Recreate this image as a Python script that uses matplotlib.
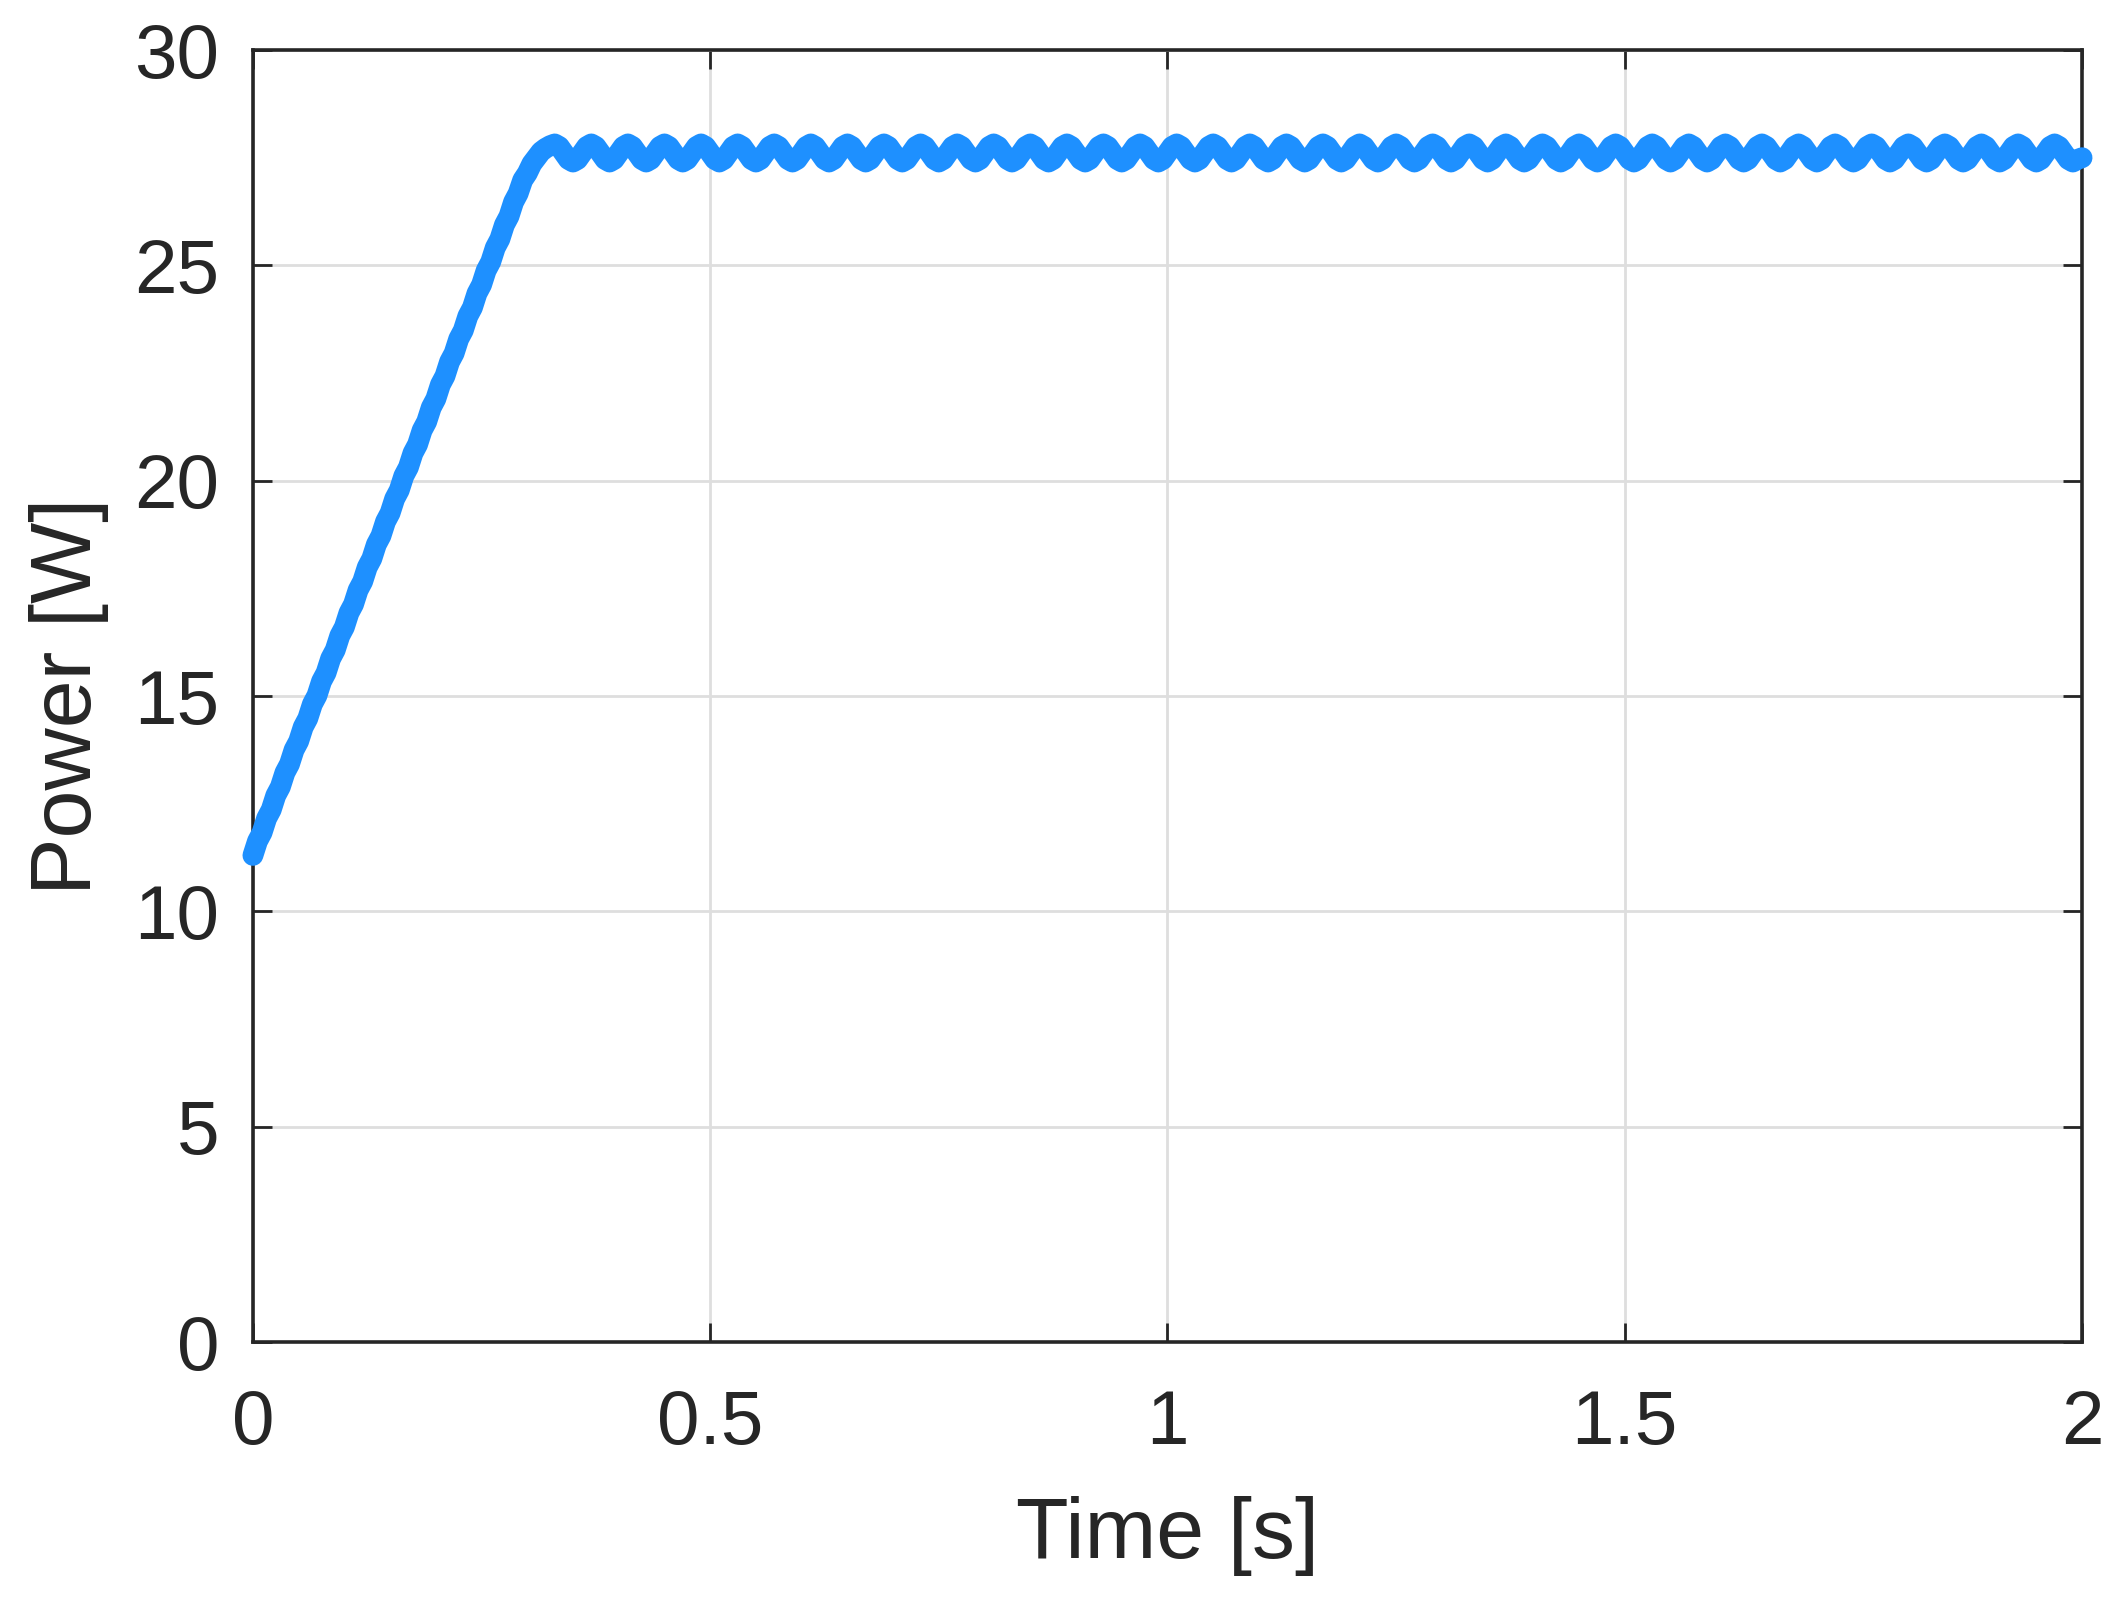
#!/usr/bin/env python3
"""
PV power during MPPT start-up
Ramp from the initial operating point up to the maximum power point,
followed by the steady-state ripple around ~27.6 W.
"""

import numpy as np
import matplotlib.pyplot as plt

# start-up ramp, sampled every 5 ms (0 .. 0.325 s)
ramp_time = np.arange(0.0, 0.3251, 0.005)
ramp_power = [
    11.30, 11.63, 11.83, 12.16, 12.36, 12.69, 12.89, 13.22, 13.42, 13.75,
    13.95, 14.28, 14.48, 14.81, 15.01, 15.34, 15.54, 15.87, 16.07, 16.40,
    16.60, 16.93, 17.13, 17.46, 17.66, 17.99, 18.19, 18.52, 18.72, 19.05,
    19.25, 19.58, 19.78, 20.11, 20.31, 20.64, 20.84, 21.17, 21.37, 21.70,
    21.90, 22.23, 22.43, 22.76, 22.96, 23.29, 23.49, 23.82, 24.02, 24.35,
    24.55, 24.88, 25.08, 25.41, 25.61, 25.94, 26.14, 26.47, 26.67, 26.98,
    27.14, 27.36, 27.50, 27.64, 27.72, 27.78,
]

# steady-state ripple, sampled every 5 ms (0.33 .. 2.0 s), one 40 ms cycle per row
ripple_time = np.arange(0.33, 2.0001, 0.005)
ripple_power = [
    27.82, 27.76, 27.61, 27.46, 27.40, 27.46, 27.61, 27.76,
    27.82, 27.76, 27.61, 27.46, 27.40, 27.46, 27.61, 27.76,
    27.82, 27.76, 27.61, 27.46, 27.40, 27.46, 27.61, 27.76,
    27.82, 27.76, 27.61, 27.46, 27.40, 27.46, 27.61, 27.76,
    27.82, 27.76, 27.61, 27.46, 27.40, 27.46, 27.61, 27.76,
    27.82, 27.76, 27.61, 27.46, 27.40, 27.46, 27.61, 27.76,
    27.82, 27.76, 27.61, 27.46, 27.40, 27.46, 27.61, 27.76,
    27.82, 27.76, 27.61, 27.46, 27.40, 27.46, 27.61, 27.76,
    27.82, 27.76, 27.61, 27.46, 27.40, 27.46, 27.61, 27.76,
    27.82, 27.76, 27.61, 27.46, 27.40, 27.46, 27.61, 27.76,
    27.82, 27.76, 27.61, 27.46, 27.40, 27.46, 27.61, 27.76,
    27.82, 27.76, 27.61, 27.46, 27.40, 27.46, 27.61, 27.76,
    27.82, 27.76, 27.61, 27.46, 27.40, 27.46, 27.61, 27.76,
    27.82, 27.76, 27.61, 27.46, 27.40, 27.46, 27.61, 27.76,
    27.82, 27.76, 27.61, 27.46, 27.40, 27.46, 27.61, 27.76,
    27.82, 27.76, 27.61, 27.46, 27.40, 27.46, 27.61, 27.76,
    27.82, 27.76, 27.61, 27.46, 27.40, 27.46, 27.61, 27.76,
    27.82, 27.76, 27.61, 27.46, 27.40, 27.46, 27.61, 27.76,
    27.82, 27.76, 27.61, 27.46, 27.40, 27.46, 27.61, 27.76,
    27.82, 27.76, 27.61, 27.46, 27.40, 27.46, 27.61, 27.76,
    27.82, 27.76, 27.61, 27.46, 27.40, 27.46, 27.61, 27.76,
    27.82, 27.76, 27.61, 27.46, 27.40, 27.46, 27.61, 27.76,
    27.82, 27.76, 27.61, 27.46, 27.40, 27.46, 27.61, 27.76,
    27.82, 27.76, 27.61, 27.46, 27.40, 27.46, 27.61, 27.76,
    27.82, 27.76, 27.61, 27.46, 27.40, 27.46, 27.61, 27.76,
    27.82, 27.76, 27.61, 27.46, 27.40, 27.46, 27.61, 27.76,
    27.82, 27.76, 27.61, 27.46, 27.40, 27.46, 27.61, 27.76,
    27.82, 27.76, 27.61, 27.46, 27.40, 27.46, 27.61, 27.76,
    27.82, 27.76, 27.61, 27.46, 27.40, 27.46, 27.61, 27.76,
    27.82, 27.76, 27.61, 27.46, 27.40, 27.46, 27.61, 27.76,
    27.82, 27.76, 27.61, 27.46, 27.40, 27.46, 27.61, 27.76,
    27.82, 27.76, 27.61, 27.46, 27.40, 27.46, 27.61, 27.76,
    27.82, 27.76, 27.61, 27.46, 27.40, 27.46, 27.61, 27.76,
    27.82, 27.76, 27.61, 27.46, 27.40, 27.46, 27.61, 27.76,
    27.82, 27.76, 27.61, 27.46, 27.40, 27.46, 27.61, 27.76,
    27.82, 27.76, 27.61, 27.46, 27.40, 27.46, 27.61, 27.76,
    27.82, 27.76, 27.61, 27.46, 27.40, 27.46, 27.61, 27.76,
    27.82, 27.76, 27.61, 27.46, 27.40, 27.46, 27.61, 27.76,
    27.82, 27.76, 27.61, 27.46, 27.40, 27.46, 27.61, 27.76,
    27.82, 27.76, 27.61, 27.46, 27.40, 27.46, 27.61, 27.76,
    27.82, 27.76, 27.61, 27.46, 27.40, 27.46, 27.61, 27.76,
    27.82, 27.76, 27.61, 27.46, 27.40, 27.46, 27.50,
]

x_ticks = [0, 0.5, 1, 1.5, 2]
x_tick_labels = ['0', '0.5', '1', '1.5', '2']
y_ticks = [0, 5, 10, 15, 20, 25, 30]

AXIS_COLOR = '#262626'
LINE_COLOR = '#1E90FF'


def main():
    plt.rcParams['font.family'] = ['Liberation Sans', 'DejaVu Sans']

    fig = plt.figure(figsize=(21.2, 16.04), dpi=100)
    ax = fig.add_axes([0.1193, 0.1633, 0.8628, 0.8055])

    n = min(len(ripple_time), len(ripple_power))
    time = np.concatenate([ramp_time, ripple_time[:n]])
    power = np.array(ramp_power + ripple_power[:n])

    ax.plot(time, power, color=LINE_COLOR, linewidth=15,
            solid_joinstyle='round', solid_capstyle='round',
            clip_on=False, zorder=3)

    ax.set_xlim(0, 2)
    ax.set_ylim(0, 30)
    ax.set_xticks(x_ticks)
    ax.set_xticklabels(x_tick_labels)
    ax.set_yticks(y_ticks)

    ax.grid(True, color='#dedede', linewidth=2)
    ax.set_axisbelow(True)

    for spine in ax.spines.values():
        spine.set_color(AXIS_COLOR)
        spine.set_linewidth(2.6)

    ax.tick_params(axis='both', direction='in', length=14, width=2,
                   color=AXIS_COLOR, labelcolor=AXIS_COLOR, labelsize=55,
                   top=True, right=True)
    ax.tick_params(axis='x', pad=34)
    ax.tick_params(axis='y', pad=24)

    ax.set_xlabel('Time [s]', fontsize=62, color=AXIS_COLOR)
    ax.set_ylabel('Power [W]', fontsize=62, color=AXIS_COLOR)
    ax.xaxis.set_label_coords(0.5, -0.119)
    ax.yaxis.set_label_coords(-0.0785, 0.5)

    fig.savefig('out.png', dpi=100)
    plt.close(fig)


if __name__ == '__main__':
    main()
